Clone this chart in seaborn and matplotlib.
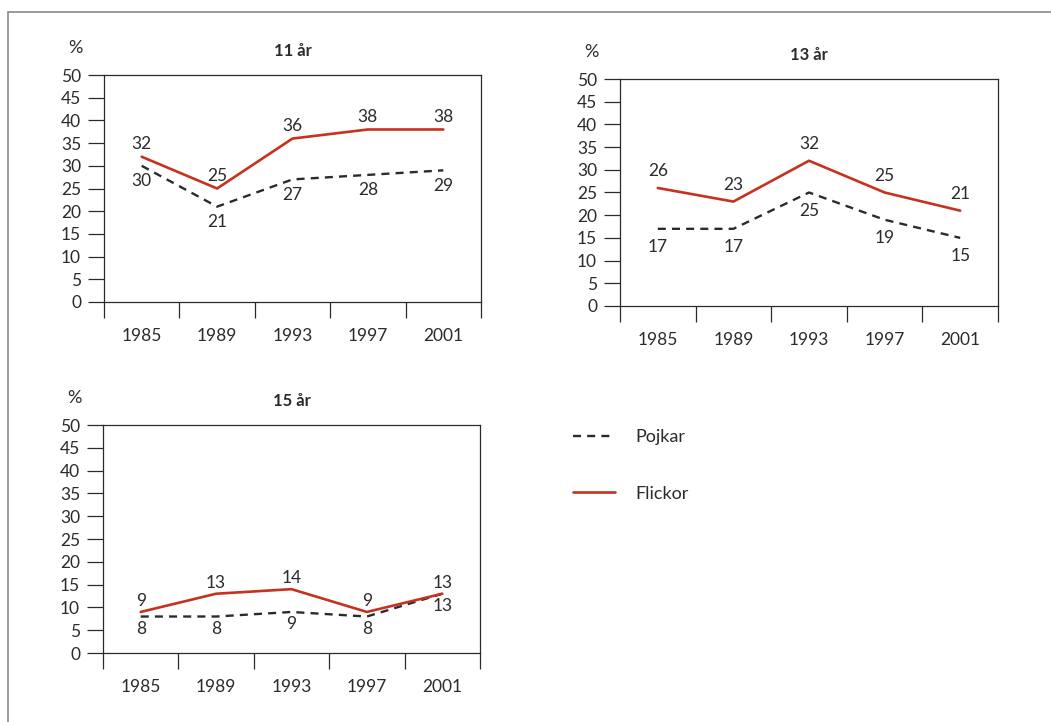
import matplotlib
matplotlib.use("Agg")
import matplotlib.pyplot as plt
from matplotlib.patches import Rectangle
from matplotlib.lines import Line2D
import seaborn as sns
import numpy as np

sns.set_style("white")
plt.rcParams["font.family"] = ["Lato", "DejaVu Sans"]

# Survey years and shares (%) per age group
years = ["1985", "1989", "1993", "1997", "2001"]
groups = ["11 år", "13 år", "15 år"]
pojkar_11 = [30, 21, 27, 28, 29]
flickor_11 = [32, 25, 36, 38, 38]
pojkar_13 = [17, 17, 25, 19, 15]
flickor_13 = [26, 23, 32, 25, 21]
pojkar_15 = [8, 8, 9, 8, 13]
flickor_15 = [9, 13, 14, 9, 13]
series_labels = ["Pojkar", "Flickor"]
y_ticks = list(range(0, 51, 5))

RED = "#c5321f"
INK = "#2b2b2b"
DASH = (0, (3.4, 2.6))

W, H = 1051, 722
fig = plt.figure(figsize=(W / 100, H / 100), dpi=100)


def px_rect(left, top, right, bottom):
    return [left / W, 1 - bottom / H, (right - left) / W, (bottom - top) / H]


panels = [
    (groups[0], pojkar_11, flickor_11, px_rect(104, 75, 481, 302), 9, 11),
    (groups[1], pojkar_13, flickor_13, px_rect(620, 79, 998, 306), 12, 13),
    (groups[2], pojkar_15, flickor_15, px_rect(103, 425, 480, 653), 8, 9),
]

x = np.arange(len(years))
for title, boys, girls, rect, up, down in panels:
    ax = fig.add_axes(rect)
    sns.lineplot(x=x, y=boys, ax=ax, color=INK, lw=1.7, linestyle=DASH)
    sns.lineplot(x=x, y=girls, ax=ax, color=RED, lw=1.9)
    ax.set_xlim(-0.5, len(years) - 0.5)
    ax.set_ylim(0, 50)
    ax.set_yticks(y_ticks)
    ax.set_yticklabels([str(t) for t in y_ticks], fontsize=12.5, color=INK)
    ax.set_xticks(x)
    ax.set_xticklabels(years, fontsize=12.5, color=INK)
    ax.set_xticks(np.arange(-0.5, len(years)), minor=True)
    ax.tick_params(axis="x", which="major", bottom=True, length=0, pad=19)
    ax.tick_params(axis="x", which="minor", bottom=True, length=11.5,
                   width=0.9, color=INK, direction="out")
    ax.tick_params(axis="y", which="major", left=True, length=11.5,
                   width=0.9, color=INK, direction="out", pad=5)
    for s in ax.spines.values():
        s.set_visible(True)
        s.set_color(INK)
        s.set_linewidth(0.9)
    ax.grid(False)
    for i, (b, g) in enumerate(zip(boys, girls)):
        ax.annotate(str(g), (i, g), xytext=(0, up), textcoords="offset points",
                    ha="center", va="center", fontsize=12.5, color=INK)
        ax.annotate(str(b), (i, b), xytext=(0, -down), textcoords="offset points",
                    ha="center", va="center", fontsize=12.5, color=INK)
    ax.text(0.5, 1.0 + 24 / (rect[3] * H), title, transform=ax.transAxes,
            ha="center", va="center", fontsize=12, fontweight="bold", color=INK)
    ax.text(-29 / (rect[2] * W), 1.0 + 27 / (rect[3] * H), "%",
            transform=ax.transAxes, ha="center", va="center",
            fontsize=13, color=INK)

handles = [
    Line2D([], [], color=INK, lw=1.7, linestyle=DASH),
    Line2D([], [], color=RED, lw=1.9),
]
fig.legend(handles, series_labels, loc="upper left",
           bbox_to_anchor=(564 / W, 1 - 420 / H), frameon=False,
           fontsize=13, handlelength=2.3, handletextpad=1.15,
           labelspacing=2.25, borderpad=0, labelcolor=INK)

# Page frame: only left and top edges fall inside the image
fig.add_artist(Rectangle((7.5 / W, -0.1), 1.2, (1 - 11.5 / H) + 0.1,
                         transform=fig.transFigure, fill=False,
                         edgecolor="#8a8a8a", lw=1.2))

fig.savefig("out.png", dpi=100)
